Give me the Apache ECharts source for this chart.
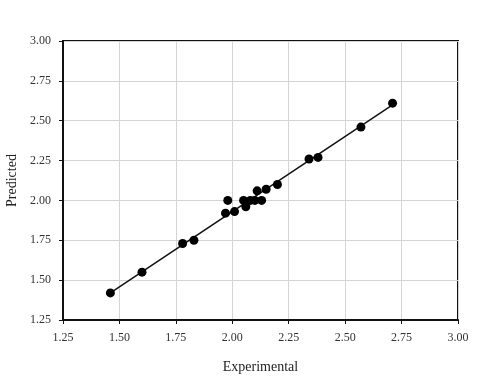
<!DOCTYPE html>
<html><head><meta charset="utf-8">
<script src="https://cdn.jsdelivr.net/npm/echarts@6/dist/echarts.min.js"></script>
<style>html,body{margin:0;padding:0;background:#fff}#c{width:480px;height:376px}</style>
</head><body><div id="c"></div>
<script>
var expX = [1.46,1.60,1.78,1.83,1.97,1.98,2.01,2.05,2.06,2.08,2.10,2.11,2.13,2.15,2.20,2.34,2.38,2.57,2.71];
var predY = [1.42,1.55,1.73,1.75,1.92,2.00,1.93,2.00,1.96,2.00,2.00,2.06,2.00,2.07,2.10,2.26,2.27,2.46,2.61];
var fitX = [1.46,2.71];
var fitY = [1.42,2.60];
var xTitle = 'Experimental';
var yTitle = 'Predicted';

var pts = expX.map(function(x,i){return [x,predY[i]];});
var fit = fitX.map(function(x,i){return [x,fitY[i]];});
var font = '"Liberation Serif", "DejaVu Serif", serif';
var chart = echarts.init(document.getElementById('c'));
function axis(name, gap, rot, margin){
  return {
    type:'value', min:1.25, max:3.00, interval:0.25,
    name:name, nameLocation:'middle', nameGap:gap, nameRotate:rot,
    nameTextStyle:{fontFamily:font, fontSize:14, color:'#222'},
    axisLine:{show:true, lineStyle:{color:'#111', width:2}},
    axisTick:{show:true, inside:false, length:4, lineStyle:{color:'#111', width:1}},
    axisLabel:{fontFamily:font, fontSize:12, color:'#333', margin:margin,
      formatter:function(v){return v.toFixed(2);}},
    splitLine:{show:true, lineStyle:{color:'#d4d4d4', width:1}}
  };
}
chart.setOption({
  animation:false,
  backgroundColor:'#fff',
  grid:{left:63, right:22, top:41, bottom:56, containLabel:false, outerBoundsMode:'none',
    show:true, borderColor:'#111', borderWidth:2, backgroundColor:'transparent'},
  xAxis: axis(xTitle, 40, 0, 12),
  yAxis: axis(yTitle, 44, 90, 12),
  series:[
    {type:'line', data:fit, symbol:'none', lineStyle:{color:'#111', width:1.5}, z:2},
    {type:'scatter', data:pts, symbol:'circle', symbolSize:9, itemStyle:{color:'#000', opacity:1}, z:3}
  ]
});
</script></body></html>
